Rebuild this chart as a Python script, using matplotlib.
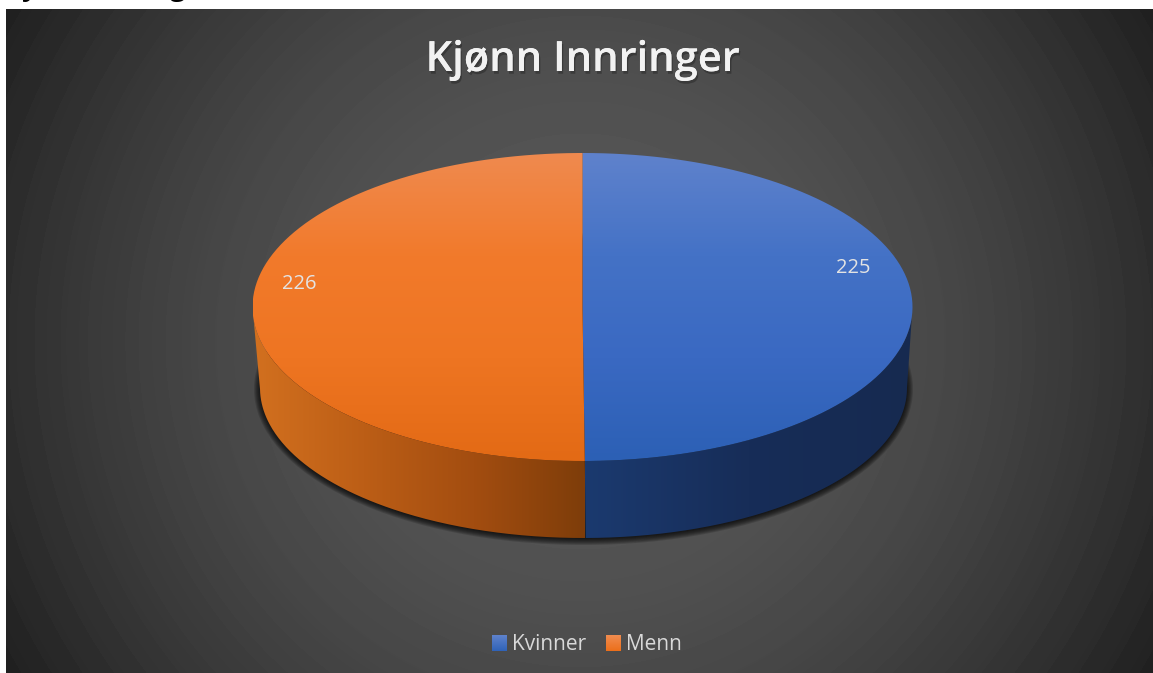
import numpy as np
import matplotlib
matplotlib.use("Agg")
import matplotlib.pyplot as plt
from matplotlib.colors import LinearSegmentedColormap as LSC
from matplotlib.patches import Ellipse, PathPatch, Rectangle
from matplotlib.path import Path
import matplotlib.patheffects as pe

plt.rcParams['font.family'] = ['Open Sans', 'DejaVu Sans']

categories = ["Kvinner", "Menn"]
values = [225, 226]
title = "Kjønn Innringer"

W, H = 1153, 673
# pie geometry in pixels
cx, cy, rx, ry = 582.5, 307, 330, 154
bx, by, brx, bry = 583.5, 388, 323.5, 150


def grad(ax, cols, box, clip, horizontal=False, zorder=2):
    cmap = LSC.from_list("g", cols)
    g = np.linspace(0, 1, 256)
    g = g[None, :] if horizontal else g[:, None]
    im = ax.imshow(g, cmap=cmap, vmin=0, vmax=1, aspect="auto", zorder=zorder,
                   extent=(box[0], box[1], box[3], box[2]), interpolation="bilinear")
    im.set_clip_path(clip)
    return im


def arc(x0, y0, a, b, t0, t1, n=200):
    t = np.radians(np.linspace(t0, t1, n))
    return np.c_[x0 + a * np.cos(t), y0 - b * np.sin(t)]


def poly(ax, pts):
    p = PathPatch(Path(np.vstack([pts, pts[:1]])), fc="none", ec="none", transform=ax.transData)
    ax.add_patch(p)
    return p


fig = plt.figure(figsize=(W / 100, H / 100), dpi=100, facecolor="white")
ax = fig.add_axes([0, 0, 1, 1])
ax.axis("off")

# background, radial fill with faint bands
yy, xx = np.mgrid[9:H, 6:W]
r = np.hypot(xx - 580, yy - 341)
rb = np.floor(r / 26) * 26
shade = 88 - 57 * ((0.6 * r + 0.4 * rb) / 663) ** 2
ax.imshow(shade / 255, cmap="gray", vmin=0, vmax=1, extent=(6, W, H, 9), aspect="auto", zorder=0)

# cut off line of text above the chart
ax.text(22, 2, "y,", fontsize=20, fontweight="bold", color="black", va="bottom", clip_on=True)
ax.text(170, 2, "g", fontsize=20, fontweight="bold", color="black", va="bottom", clip_on=True)

# soft shadow below the pie
for i in range(7):
    ax.add_patch(Ellipse((bx, by + 1), 2 * (brx + 6 - i), 2 * (bry + 6 - i), fc="black", ec="none",
                         alpha=0.15, zorder=1))

# angles from the values, clockwise from 12 o'clock
split = 90 - 360 * values[0] / sum(values)

# side wall, only the front half shows
wall_k = np.vstack([arc(cx, cy, rx, ry, 0, split), arc(bx, by, brx, bry, split, 0)])
wall_m = np.vstack([arc(cx, cy, rx, ry, split, -180), arc(bx, by, brx, bry, -180, split)])
grad(ax, ["#1b3a6f", "#172d58", "#162a50"], (585, 912, 300, 545), poly(ax, wall_k), horizontal=True)
grad(ax, ["#d2701f", "#bc5e16", "#a34d10", "#7e3d0a"], (253, 585, 300, 545), poly(ax, wall_m), horizontal=True)

# top face
top_k = np.vstack([[[cx, cy]], arc(cx, cy, rx, ry, 90, split)])
top_m = np.vstack([[[cx, cy]], arc(cx, cy, rx, ry, split, split - (360 - (90 - split)))])
grad(ax, ["#5f82cc", "#4472c6", "#3a69c2", "#2c60b5"], (cx - rx, cx + rx, cy - ry, cy + ry), poly(ax, top_k), zorder=3)
grad(ax, ["#ef8a4f", "#f27a2b", "#ee7522", "#e36a15"], (cx - rx, cx + rx, cy - ry, cy + ry), poly(ax, top_m), zorder=3)

# data labels
ax.text(853, 268, str(values[0]), color="#e3e3e3", fontsize=14.5, ha="center", va="center", zorder=5)
ax.text(299, 284, str(values[1]), color="#e3e3e3", fontsize=14.5, ha="center", va="center", zorder=5)

# title
t = ax.text(582.5, 60, title, color="#f2f2f2", fontsize=30, fontweight=600, ha="center", va="center", zorder=5)
t.set_path_effects([pe.withSimplePatchShadow(offset=(1, -2), shadow_rgbFace="black", alpha=0.25), pe.Normal()])

# legend
swatch_cols = [["#5f82cc", "#2f63b8"], ["#f08c50", "#ec6f1a"]]
swatch_x = [492, 606]
for name, col, x in zip(categories, swatch_cols, swatch_x):
    rect = Rectangle((x, 635), 15, 16, fc="none", ec="none", transform=ax.transData)
    ax.add_patch(rect)
    grad(ax, col, (x, x + 15, 635, 651), rect, zorder=5)
    ax.text(x + 20, 644, name, color="#d9d9d9", fontsize=15, ha="left", va="center", zorder=5)

ax.set_xlim(0, W)
ax.set_ylim(H, 0)
fig.savefig("out.png", dpi=100)
